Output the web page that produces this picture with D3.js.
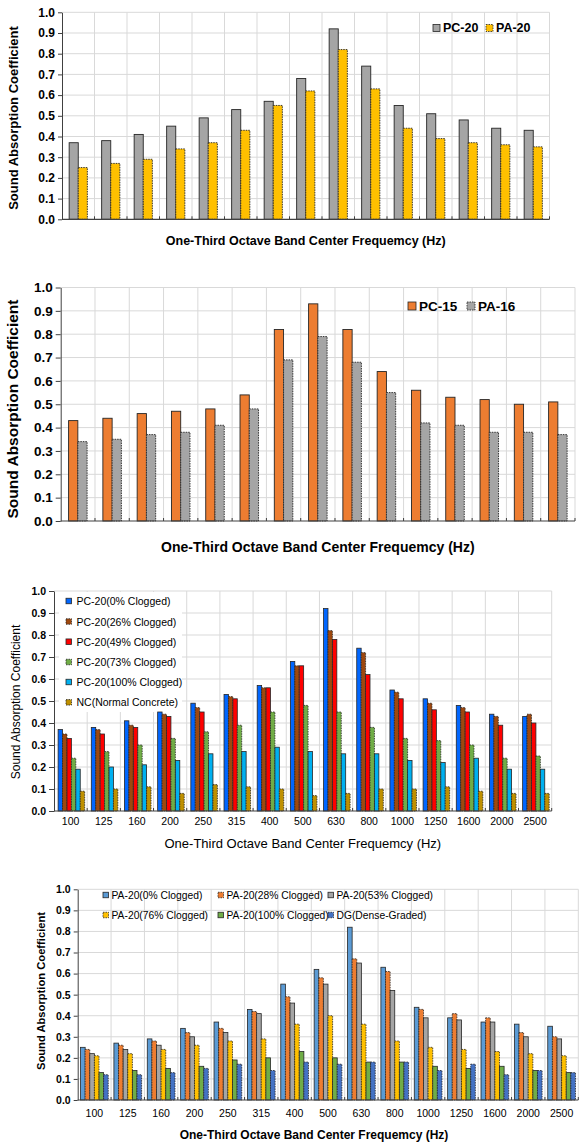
<!DOCTYPE html>
<html>
<head>
<meta charset="utf-8">
<script src="https://cdn.jsdelivr.net/npm/d3@7"></script>
<style>
html,body{margin:0;padding:0;background:#fff;}
svg{display:block;font-family:"Liberation Sans",Arial,sans-serif;}
</style>
</head>
<body>
<svg id="chart" width="579" height="1142"></svg>
<script>
// ---------- DATA ----------
const freqs = ["100","125","160","200","250","315","400","500","630","800","1000","1250","1600","2000","2500"];
const yTickValues = [0,0.1,0.2,0.3,0.4,0.5,0.6,0.7,0.8,0.9,1.0];
const yTitle = "Sound Absorption Coefficient";
const xTitle = "One-Third Octave Band Center Frequemcy (Hz)";

// Panel 1
const p1Names = ["PC-20","PA-20"];
const p1PC20 = [0.37,0.38,0.41,0.45,0.49,0.53,0.57,0.68,0.92,0.74,0.55,0.51,0.48,0.44,0.43];
const p1PA20 = [0.25,0.27,0.29,0.34,0.37,0.43,0.55,0.62,0.82,0.63,0.44,0.39,0.37,0.36,0.35];

// Panel 2
const p2Names = ["PC-15","PA-16"];
const p2PC15 = [0.43,0.44,0.46,0.47,0.48,0.54,0.82,0.93,0.82,0.64,0.56,0.53,0.52,0.50,0.51];
const p2PA16 = [0.34,0.35,0.37,0.38,0.41,0.48,0.69,0.79,0.68,0.55,0.42,0.41,0.38,0.38,0.37];

// Panel 3
const p3Names = ["PC-20(0% Clogged)","PC-20(26% Clogged)","PC-20(49% Clogged)","PC-20(73% Clogged)","PC-20(100% Clogged)","NC(Normal Concrete)"];
const p3C0   = [0.37,0.38,0.41,0.45,0.49,0.53,0.57,0.68,0.92,0.74,0.55,0.51,0.48,0.44,0.43];
const p3C26  = [0.35,0.37,0.39,0.44,0.47,0.52,0.56,0.66,0.82,0.72,0.54,0.49,0.47,0.43,0.44];
const p3C49  = [0.33,0.35,0.38,0.43,0.45,0.51,0.56,0.66,0.78,0.62,0.51,0.46,0.45,0.39,0.40];
const p3C73  = [0.24,0.27,0.30,0.33,0.36,0.39,0.45,0.48,0.45,0.38,0.33,0.32,0.30,0.24,0.25];
const p3C100 = [0.19,0.20,0.21,0.23,0.26,0.27,0.29,0.27,0.26,0.26,0.23,0.22,0.24,0.19,0.19];
const p3NC   = [0.09,0.10,0.11,0.08,0.12,0.11,0.10,0.07,0.08,0.10,0.10,0.11,0.09,0.08,0.08];

// Panel 4
const p4Names = ["PA-20(0% Clogged)","PA-20(28% Clogged)","PA-20(53% Clogged)","PA-20(76% Clogged)","PA-20(100% Clogged)","DG(Dense-Graded)"];
const p4C0   = [0.25,0.27,0.29,0.34,0.37,0.43,0.55,0.62,0.82,0.63,0.44,0.39,0.37,0.36,0.35];
const p4C28  = [0.24,0.26,0.28,0.32,0.34,0.42,0.49,0.58,0.67,0.61,0.43,0.41,0.39,0.32,0.30];
const p4C53  = [0.22,0.24,0.26,0.30,0.32,0.41,0.46,0.55,0.65,0.52,0.39,0.38,0.37,0.30,0.29];
const p4C76  = [0.21,0.22,0.24,0.26,0.28,0.29,0.36,0.40,0.36,0.28,0.25,0.24,0.23,0.22,0.21];
const p4C100 = [0.13,0.14,0.15,0.16,0.19,0.20,0.23,0.20,0.18,0.18,0.16,0.15,0.16,0.14,0.13];
const p4DG   = [0.12,0.12,0.13,0.15,0.17,0.14,0.18,0.17,0.18,0.18,0.14,0.17,0.12,0.14,0.13];

// ---------- DRAW ----------
const svg = d3.select("#chart");
const fmt = d3.format(".1f");

function panel(cfg){
  const g = svg.append("g");
  const x = d3.scaleBand().domain(freqs).range([cfg.x0, cfg.x1]).paddingInner(0).paddingOuter(0);
  const y = d3.scaleLinear().domain([0,1]).range([cfg.yb, cfg.yt]);
  const bw = x.bandwidth();
  const pad = bw*(1-cfg.groupFrac)/2;
  const xs = d3.scaleBand().domain(d3.range(cfg.series.length)).range([pad + (cfg.shift||0), bw - pad + (cfg.shift||0)]).padding(0);

  // grid
  g.append("g").selectAll("line.h").data(yTickValues.filter(d=>d>0)).join("line")
    .attr("x1",cfg.x0).attr("x2",cfg.x1).attr("y1",d=>y(d)).attr("y2",d=>y(d))
    .attr("stroke","#d9d9d9").attr("stroke-width",1);
  const bounds = freqs.map(f=>x(f)).concat([cfg.x1]).slice(1);
  g.append("g").selectAll("line.v").data(bounds).join("line")
    .attr("x1",d=>d).attr("x2",d=>d).attr("y1",cfg.yt).attr("y2",cfg.yb)
    .attr("stroke","#d9d9d9").attr("stroke-width",1);

  // legend background (panel 3)
  if(cfg.legendBg){
    g.append("rect").attr("x",cfg.legendBg[0]).attr("y",cfg.legendBg[1])
      .attr("width",cfg.legendBg[2]).attr("height",cfg.legendBg[3]).attr("fill","#fff");
  }

  // bars
  cfg.series.forEach((s,i)=>{
    g.append("g").selectAll("rect").data(s.values).join("rect")
      .attr("x",(d,j)=>x(freqs[j]) + xs(i))
      .attr("y",d=>y(d))
      .attr("width",xs.bandwidth())
      .attr("height",d=>y(0)-y(d))
      .attr("fill",s.color)
      .attr("stroke","#262626")
      .attr("stroke-width",cfg.sw||0.9)
      .attr("stroke-dasharray",s.dash ? "1.5,1" : null);
  });

  // y axis
  const ya = g.append("g").attr("transform",`translate(${cfg.x0},0)`)
    .call(d3.axisLeft(y).tickValues(yTickValues).tickFormat(fmt).tickSize(cfg.tick||4).tickSizeOuter(0).tickPadding(cfg.tpad||3));
  ya.select(".domain").attr("stroke","#404040");
  ya.selectAll(".tick line").attr("stroke","#404040");
  ya.selectAll(".tick text").attr("fill","#000").style("font-size",cfg.yfs+"px").style("font-weight","bold")
    .style("font-family",'"Liberation Sans",Arial,sans-serif');

  // x axis line
  g.append("line").attr("x1",cfg.x0).attr("x2",cfg.x1).attr("y1",cfg.yb).attr("y2",cfg.yb)
    .attr("stroke","#404040").attr("stroke-width",1.2);
  g.append("g").selectAll("line").data(bounds).join("line")
    .attr("x1",d=>d).attr("x2",d=>d).attr("y1",cfg.yb-3).attr("y2",cfg.yb)
    .attr("stroke","#404040").attr("stroke-width",1);

  // x tick labels
  if(cfg.xLabels){
    g.append("g").selectAll("text").data(freqs).join("text")
      .attr("x",d=>x(d)+bw/2).attr("y",cfg.xLabelY).attr("text-anchor","middle")
      .style("font-size",cfg.xlfs+"px").style("font-weight",cfg.xlfw||"normal").attr("fill","#000").text(d=>d);
  }

  // titles
  g.append("text").attr("x",(cfg.x0+cfg.x1)/2 + (cfg.xtdx||0)).attr("y",cfg.xtY).attr("text-anchor","middle")
    .style("font-size",cfg.xtfs+"px").style("font-weight",cfg.xtfw).attr("fill","#000").text(xTitle);
  g.append("text").attr("transform",`translate(${cfg.ytX},${cfg.ytCY}) rotate(-90)`).attr("text-anchor","middle")
    .attr("dominant-baseline","middle")
    .style("font-size",cfg.ytfs+"px").style("font-weight",cfg.ytfw).attr("fill","#000").text(yTitle);

  // legend
  cfg.legend.forEach((L,i)=>{
    const s = cfg.series[i];
    g.append("rect").attr("x",L[0]).attr("y",L[1]-cfg.lsq/2).attr("width",cfg.lsq).attr("height",cfg.lsq)
      .attr("fill",s.color).attr("stroke","#262626").attr("stroke-width",0.8)
      .attr("stroke-dasharray",s.dash ? "1.5,1" : null);
    g.append("text").attr("x",L[0]+cfg.lsq+cfg.lgap).attr("y",L[1]).attr("dominant-baseline","central")
      .style("font-size",cfg.lfs+"px").style("font-weight",cfg.lfw).attr("fill","#000").text(s.name);
  });
}

// Panel 1
panel({
  x0:62, x1:549.5, yt:12.3, yb:219.3, groupFrac:0.56,
  series:[{name:p1Names[0],values:p1PC20,color:"#A5A5A5"},{name:p1Names[1],values:p1PA20,color:"#FFC000",dash:true}],
  yfs:12, tick:4, xLabels:false,
  xtY:245, xtfs:12.5, xtfw:"bold",
  ytX:15, ytCY:118, ytfs:13, ytfw:"bold",
  legend:[[433,28],[486,28]], lsq:7, lgap:3, lfs:12.5, lfw:"bold"
});

// Panel 2
panel({
  x0:60.7, x1:575, yt:287.5, yb:521, groupFrac:0.54,
  series:[{name:p2Names[0],values:p2PC15,color:"#ED7D31"},{name:p2Names[1],values:p2PA16,color:"#A5A5A5",dash:true}],
  yfs:13.5, tick:5, xLabels:false,
  xtY:552, xtfs:14, xtfw:"bold",
  ytX:14, ytCY:409, ytfs:15.5, ytfw:"bold",
  legend:[[408,306],[467,306]], lsq:8, lgap:3, lfs:13.5, lfw:"bold"
});

// Panel 3
panel({
  x0:54, x1:551.7, yt:591, yb:811, groupFrac:0.8, shift:0.8, sw:0.8,
  series:[
    {name:p3Names[0],values:p3C0,color:"#0066FF"},
    {name:p3Names[1],values:p3C26,color:"#9E480E",dash:true},
    {name:p3Names[2],values:p3C49,color:"#FF0000"},
    {name:p3Names[3],values:p3C73,color:"#70AD47",dash:true},
    {name:p3Names[4],values:p3C100,color:"#00B0F0"},
    {name:p3Names[5],values:p3NC,color:"#BF9000",dash:true}
  ],
  yfs:10.5, tick:5, xLabels:true, xLabelY:825, xlfs:10.5,
  xtY:848, xtfs:13, xtfw:"normal",
  ytX:17, ytCY:702, ytfs:12, ytfw:"normal",
  legendBg:[59,592,123,120],
  legend:[[66,601],[66,621.5],[66,641.7],[66,662],[66,682],[66,702.3]], lsq:5.5, lgap:5, lfs:10.5, lfw:"normal"
});

// Panel 4
panel({
  x0:77.7, x1:578.3, yt:889.3, yb:1100, groupFrac:0.83, sw:0.8,
  series:[
    {name:p4Names[0],values:p4C0,color:"#5B9BD5"},
    {name:p4Names[1],values:p4C28,color:"#ED7D31",dash:true},
    {name:p4Names[2],values:p4C53,color:"#A5A5A5"},
    {name:p4Names[3],values:p4C76,color:"#FFC000",dash:true},
    {name:p4Names[4],values:p4C100,color:"#70AD47"},
    {name:p4Names[5],values:p4DG,color:"#4472C4",dash:true}
  ],
  yfs:10.5, tick:4, xLabels:true, xLabelY:1117, xlfs:10.5,
  xtY:1139, xtfs:12, xtfw:"bold", xtdx:-14,
  ytX:42, ytCY:991, ytfs:11.2, ytfw:"bold",
  legend:[[103,895],[218,895],[328,895],[103,915],[218,915],[328,915]], lsq:5.5, lgap:3, lfs:10.3, lfw:"normal"
});
</script>
</body>
</html>
